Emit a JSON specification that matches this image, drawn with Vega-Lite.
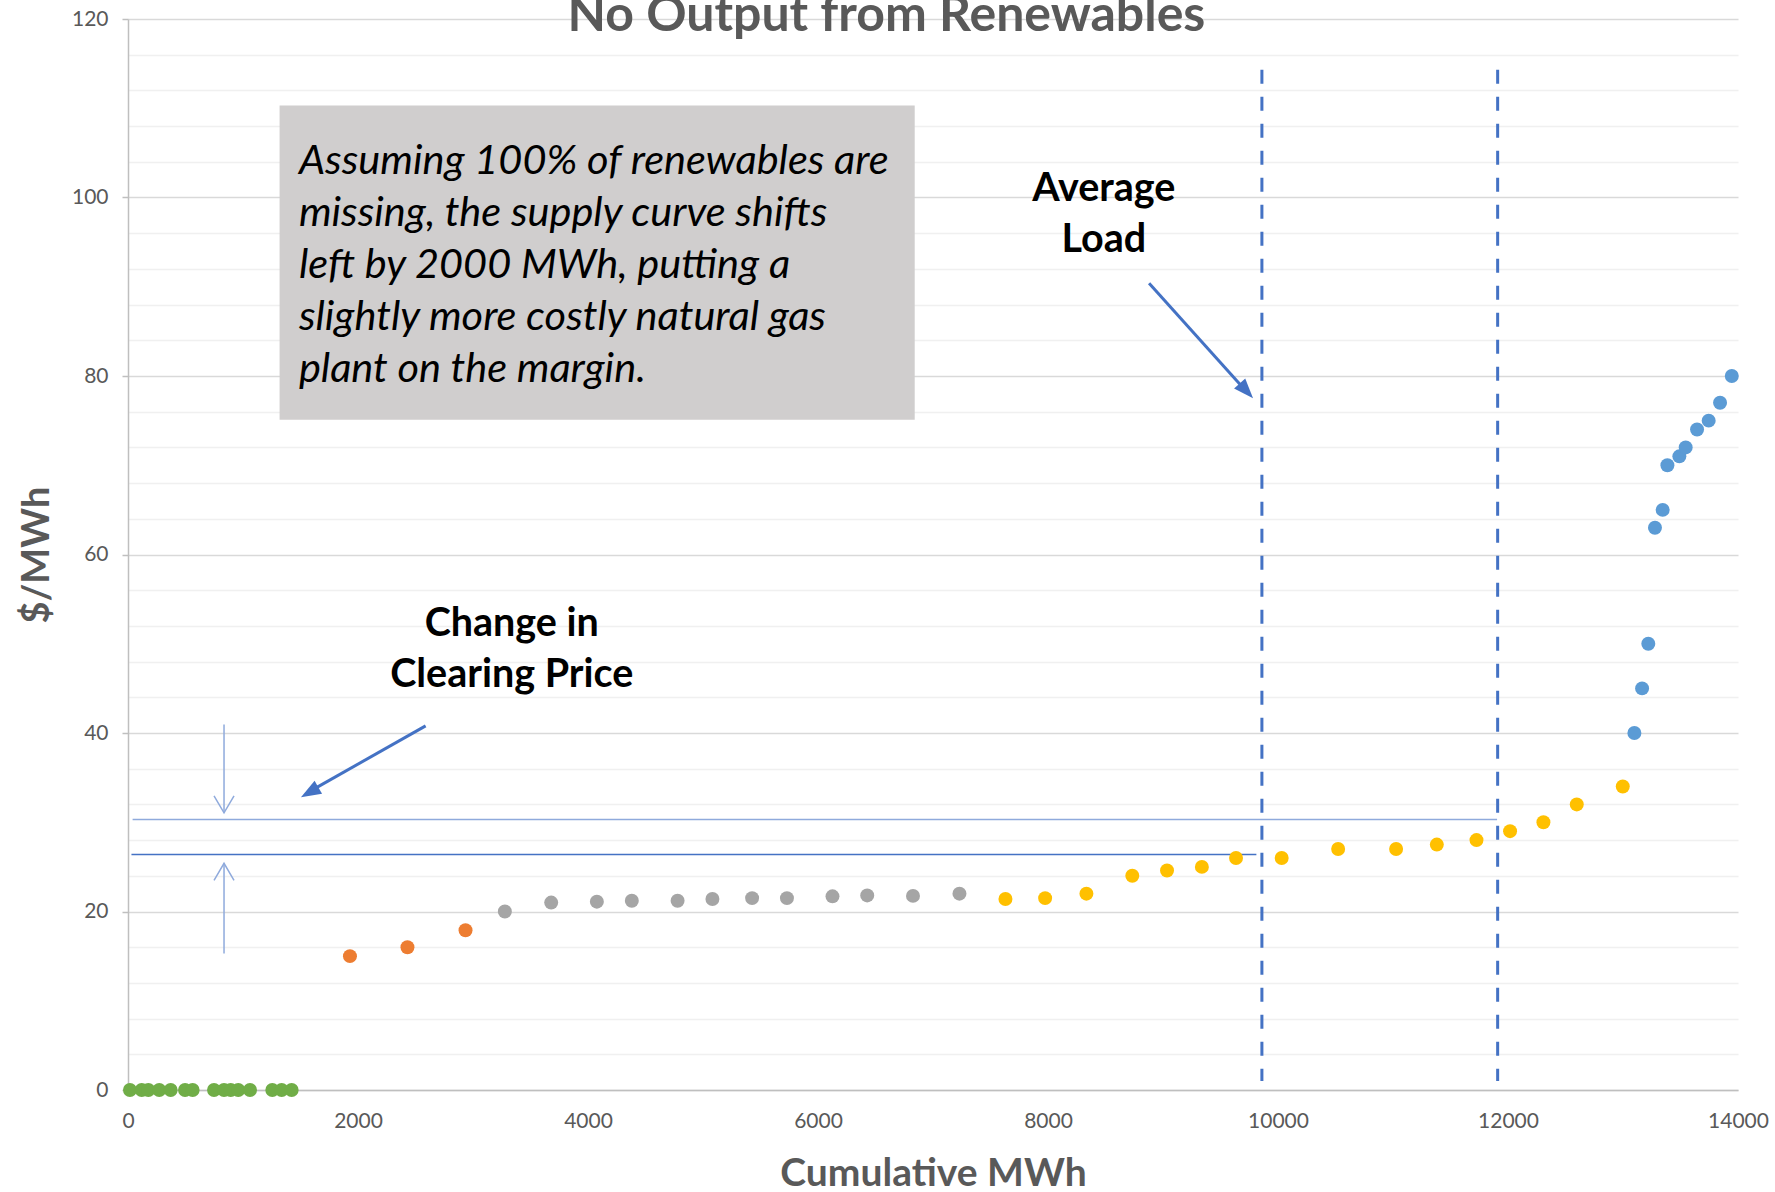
{
  "$schema": "https://vega.github.io/schema/vega-lite/v6.json",
  "width": 1610,
  "height": 1071,
  "autosize": {"type": "none"},
  "padding": {"left": 128, "top": 19, "right": 37, "bottom": 102},
  "background": "white",
  "config": {"view": {"stroke": null}, "font": "Lato"},
  "datasets": {
    "points": [
      {"mwh": 17, "price": 0, "group": "green"},
      {"mwh": 119, "price": 0, "group": "green"},
      {"mwh": 177, "price": 0, "group": "green"},
      {"mwh": 272, "price": 0, "group": "green"},
      {"mwh": 371, "price": 0, "group": "green"},
      {"mwh": 496, "price": 0, "group": "green"},
      {"mwh": 562, "price": 0, "group": "green"},
      {"mwh": 748, "price": 0, "group": "green"},
      {"mwh": 835, "price": 0, "group": "green"},
      {"mwh": 893, "price": 0, "group": "green"},
      {"mwh": 959, "price": 0, "group": "green"},
      {"mwh": 1061, "price": 0, "group": "green"},
      {"mwh": 1255, "price": 0, "group": "green"},
      {"mwh": 1336, "price": 0, "group": "green"},
      {"mwh": 1423, "price": 0, "group": "green"},
      {"mwh": 1930, "price": 15, "group": "orange"},
      {"mwh": 2430, "price": 16, "group": "orange"},
      {"mwh": 2935, "price": 17.9, "group": "orange"},
      {"mwh": 3277, "price": 20.0, "group": "grey"},
      {"mwh": 3680, "price": 21.0, "group": "grey"},
      {"mwh": 4077, "price": 21.1, "group": "grey"},
      {"mwh": 4381, "price": 21.2, "group": "grey"},
      {"mwh": 4779, "price": 21.2, "group": "grey"},
      {"mwh": 5082, "price": 21.4, "group": "grey"},
      {"mwh": 5427, "price": 21.5, "group": "grey"},
      {"mwh": 5730, "price": 21.5, "group": "grey"},
      {"mwh": 6126, "price": 21.7, "group": "grey"},
      {"mwh": 6428, "price": 21.8, "group": "grey"},
      {"mwh": 6826, "price": 21.75, "group": "grey"},
      {"mwh": 7230, "price": 22.0, "group": "grey"},
      {"mwh": 7630, "price": 21.4, "group": "yellow"},
      {"mwh": 7975, "price": 21.5, "group": "yellow"},
      {"mwh": 8334, "price": 22.0, "group": "yellow"},
      {"mwh": 8733, "price": 24.0, "group": "yellow"},
      {"mwh": 9035, "price": 24.6, "group": "yellow"},
      {"mwh": 9338, "price": 25.0, "group": "yellow"},
      {"mwh": 9635, "price": 26.0, "group": "yellow"},
      {"mwh": 10032, "price": 26.0, "group": "yellow"},
      {"mwh": 10523, "price": 27.0, "group": "yellow"},
      {"mwh": 11027, "price": 27.0, "group": "yellow"},
      {"mwh": 11381, "price": 27.5, "group": "yellow"},
      {"mwh": 11726, "price": 28.0, "group": "yellow"},
      {"mwh": 12018, "price": 29.0, "group": "yellow"},
      {"mwh": 12308, "price": 30.0, "group": "yellow"},
      {"mwh": 12598, "price": 32.0, "group": "yellow"},
      {"mwh": 12998, "price": 34.0, "group": "yellow"},
      {"mwh": 13099, "price": 40, "group": "blue"},
      {"mwh": 13166, "price": 45, "group": "blue"},
      {"mwh": 13220, "price": 50, "group": "blue"},
      {"mwh": 13278, "price": 63, "group": "blue"},
      {"mwh": 13345, "price": 65, "group": "blue"},
      {"mwh": 13386, "price": 70, "group": "blue"},
      {"mwh": 13490, "price": 71, "group": "blue"},
      {"mwh": 13545, "price": 72, "group": "blue"},
      {"mwh": 13644, "price": 74, "group": "blue"},
      {"mwh": 13745, "price": 75, "group": "blue"},
      {"mwh": 13844, "price": 77, "group": "blue"},
      {"mwh": 13946, "price": 80, "group": "blue"}
    ],
    "loads": [{"load": 9860}, {"load": 11910}],
    "one": [{}]
  },
  "layer": [
    {
      "data": {"name": "points"},
      "mark": {"type": "circle", "size": 0, "opacity": 0},
      "encoding": {
        "x": {
          "field": "mwh", "type": "quantitative",
          "scale": {"domain": [0, 14000], "nice": false},
          "axis": {
            "values": [0, 2000, 4000, 6000, 8000, 10000, 12000, 14000],
            "tickCount": 20,
            "format": "d",
            "grid": false, "ticks": false,
            "domainColor": "#bfbfbf", "domainWidth": 1.5,
            "labelFontSize": 21, "labelColor": "#595959", "labelPadding": 20,
            "labelFlush": false, "labelOverlap": false,
            "title": "Cumulative MWh",
            "titleFontSize": 39, "titleFontWeight": "bold", "titleColor": "#595959",
            "titleX": 805, "titleY": 83, "titleAlign": "center", "titleBaseline": "middle"
          }
        },
        "y": {
          "field": "price", "type": "quantitative",
          "scale": {"domain": [0, 120], "nice": false},
          "axis": {
            "values": [0, 4, 8, 12, 16, 20, 24, 28, 32, 36, 40, 44, 48, 52, 56, 60, 64, 68, 72, 76, 80, 84, 88, 92, 96, 100, 104, 108, 112, 116, 120],
            "tickCount": 60,
            "labelExpr": "datum.value % 20 === 0 ? datum.label : ''",
            "labelOverlap": false,
            "gridColor": {"condition": {"test": "datum.value % 20 === 0", "value": "#d9d9d9"}, "value": "#f0f0f0"},
            "gridWidth": 1.5,
            "tickColor": {"condition": {"test": "datum.value % 20 === 0", "value": "#bfbfbf"}, "value": "transparent"},
            "tickSize": 6, "tickWidth": 1.5,
            "domainColor": "#bfbfbf", "domainWidth": 1.5,
            "labelFontSize": 21, "labelColor": "#595959", "labelPadding": 14,
            "title": "$/MWh",
            "titleFontSize": 38, "titleFontWeight": "bold", "titleColor": "#595959",
            "titleX": -91, "titleY": 535.5, "titleAlign": "center", "titleBaseline": "middle", "titleAngle": -90
          }
        }
      }
    },
    {
      "data": {"name": "one"},
      "mark": {"type": "rect", "fill": "#d0cece"},
      "encoding": {
        "x": {"datum": 1318, "type": "quantitative"},
        "x2": {"datum": 6841},
        "y": {"datum": 110.3, "type": "quantitative"},
        "y2": {"datum": 75.1}
      }
    },
    {
      "data": {"name": "one"},
      "mark": {"type": "rule", "color": "#8faadc", "strokeWidth": 1.5},
      "encoding": {
        "x": {"datum": 40, "type": "quantitative"},
        "x2": {"datum": 11905},
        "y": {"datum": 30.3, "type": "quantitative"}
      }
    },
    {
      "data": {"name": "one"},
      "mark": {"type": "rule", "color": "#4472c4", "strokeWidth": 1.5},
      "encoding": {
        "x": {"datum": 30, "type": "quantitative"},
        "x2": {"datum": 9812},
        "y": {"datum": 26.4, "type": "quantitative"}
      }
    },
    {
      "data": {"name": "loads"},
      "mark": {"type": "rule", "color": "#4472c4", "strokeWidth": 3, "strokeDash": [14, 13]},
      "encoding": {
        "x": {"field": "load", "type": "quantitative"},
        "y": {"datum": 114.3, "type": "quantitative"},
        "y2": {"datum": 1.0}
      }
    },
    {
      "data": {"name": "one"},
      "mark": {"type": "rule", "color": "#4472c4", "strokeWidth": 3},
      "encoding": {
        "x": {"datum": 8879, "type": "quantitative"},
        "x2": {"datum": 9710},
        "y": {"datum": 90.4, "type": "quantitative"},
        "y2": {"datum": 78.5}
      }
    },
    {
      "data": {"name": "one"},
      "mark": {"type": "point", "shape": "M0,0L-0.75,2L0.75,2Z", "filled": true, "fill": "#4472c4", "opacity": 1, "size": 400, "angle": 138},
      "encoding": {
        "x": {"datum": 9783, "type": "quantitative"},
        "y": {"datum": 77.5, "type": "quantitative"}
      }
    },
    {
      "data": {"name": "one"},
      "mark": {"type": "rule", "color": "#4472c4", "strokeWidth": 3},
      "encoding": {
        "x": {"datum": 2588, "type": "quantitative"},
        "x2": {"datum": 1600},
        "y": {"datum": 40.8, "type": "quantitative"},
        "y2": {"datum": 33.6}
      }
    },
    {
      "data": {"name": "one"},
      "mark": {"type": "point", "shape": "M0,0L-0.75,2L0.75,2Z", "filled": true, "fill": "#4472c4", "opacity": 1, "size": 400, "angle": 240.2},
      "encoding": {
        "x": {"datum": 1504, "type": "quantitative"},
        "y": {"datum": 32.8, "type": "quantitative"}
      }
    },
    {
      "data": {"name": "one"},
      "mark": {"type": "rule", "color": "#8faadc", "strokeWidth": 1.5},
      "encoding": {
        "x": {"datum": 835, "type": "quantitative"},
        "y": {"datum": 40.95, "type": "quantitative"},
        "y2": {"datum": 31.06}
      }
    },
    {
      "data": {"name": "one"},
      "mark": {"type": "point", "shape": "M-1,1.7L0,0L1,1.7", "filled": false, "stroke": "#8faadc", "strokeWidth": 1.5, "opacity": 1, "size": 400, "angle": 180},
      "encoding": {
        "x": {"datum": 835, "type": "quantitative"},
        "y": {"datum": 31.06, "type": "quantitative"}
      }
    },
    {
      "data": {"name": "one"},
      "mark": {"type": "rule", "color": "#8faadc", "strokeWidth": 1.5},
      "encoding": {
        "x": {"datum": 835, "type": "quantitative"},
        "y": {"datum": 15.3, "type": "quantitative"},
        "y2": {"datum": 25.4}
      }
    },
    {
      "data": {"name": "one"},
      "mark": {"type": "point", "shape": "M-1,1.7L0,0L1,1.7", "filled": false, "stroke": "#8faadc", "strokeWidth": 1.5, "opacity": 1, "size": 400, "angle": 0},
      "encoding": {
        "x": {"datum": 835, "type": "quantitative"},
        "y": {"datum": 25.4, "type": "quantitative"}
      }
    },
    {
      "data": {"name": "points"},
      "mark": {"type": "circle", "size": 195, "opacity": 1},
      "encoding": {
        "x": {"field": "mwh", "type": "quantitative"},
        "y": {"field": "price", "type": "quantitative"},
        "color": {
          "field": "group", "type": "nominal",
          "scale": {"domain": ["green", "orange", "grey", "yellow", "blue"], "range": ["#70ad47", "#ed7d31", "#a5a5a5", "#ffc000", "#5b9bd5"]},
          "legend": null
        }
      }
    },
    {
      "data": {"name": "one"},
      "mark": {"type": "text", "text": ["Assuming 100% of renewables are", "missing, the supply curve shifts", "left by 2000 MWh, putting a", "slightly more costly natural gas", "plant on the margin."], "align": "left", "baseline": "alphabetic", "fontStyle": "italic", "fontSize": 41.5, "lineHeight": 52, "color": "#000000"},
      "encoding": {
        "x": {"datum": 1486, "type": "quantitative"},
        "y": {"datum": 102.6, "type": "quantitative"}
      }
    },
    {
      "data": {"name": "one"},
      "mark": {"type": "text", "text": ["Average", "Load"], "align": "center", "baseline": "alphabetic", "fontWeight": "bold", "fontSize": 39.5, "lineHeight": 51, "color": "#000000"},
      "encoding": {
        "x": {"datum": 8485, "type": "quantitative"},
        "y": {"datum": 99.66, "type": "quantitative"}
      }
    },
    {
      "data": {"name": "one"},
      "mark": {"type": "text", "text": ["Change in", "Clearing Price"], "align": "center", "baseline": "alphabetic", "fontWeight": "bold", "fontSize": 39.5, "lineHeight": 51, "color": "#000000"},
      "encoding": {
        "x": {"datum": 3337, "type": "quantitative"},
        "y": {"datum": 50.87, "type": "quantitative"}
      }
    },
    {
      "data": {"name": "one"},
      "mark": {"type": "text", "text": "No Output from Renewables", "align": "center", "baseline": "alphabetic", "fontWeight": "bold", "fontSize": 50, "color": "#595959"},
      "encoding": {
        "x": {"datum": 6595, "type": "quantitative"},
        "y": {"datum": 118.6, "type": "quantitative"}
      }
    }
  ]
}
